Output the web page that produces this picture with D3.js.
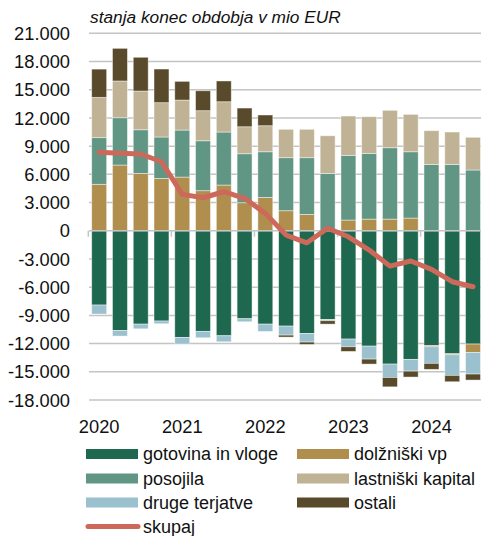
<!DOCTYPE html>
<html>
<head>
<meta charset="utf-8">
<script src="https://cdn.jsdelivr.net/npm/d3@7"></script>
<style>
  html, body { margin: 0; padding: 0; background: #fff; }
  svg { display: block; font-family: "Liberation Sans", Arial, sans-serif; }
</style>
</head>
<body>
<svg id="chart" width="481" height="536"></svg>
<script>
// ---- data (mio EUR, end-of-period stocks) ----
const quarters = ["2020Q1","2020Q2","2020Q3","2020Q4","2021Q1","2021Q2","2021Q3","2021Q4",
  "2022Q1","2022Q2","2022Q3","2022Q4","2023Q1","2023Q2","2023Q3","2023Q4","2024Q1","2024Q2","2024Q3"];
const yearLabels = ["2020","2021","2022","2023","2024"];
const yTicks = [-18000,-15000,-12000,-9000,-6000,-3000,0,3000,6000,9000,12000,15000,18000,21000];

const gotovina  = [-7900,-10600,-9930,-9600,-11340,-10700,-11170,-9360,-9930,-10140,-10920,-9430,-11520,-12270,-14180,-13680,-12200,-13080,-12050];
const dolzniski = [4940,6990,6100,5570,5710,4260,4860,2980,3550,2130,1740,50,1140,1240,1240,1350,-140,-110,-890];
const posojila  = [4960,5030,4640,4400,5000,5310,5640,5210,4850,5640,6030,6050,6880,6990,7590,7050,7060,7060,6460];
const druge     = [-960,-600,-500,-290,-710,-680,-640,-320,-780,-960,-920,-140,-820,-1380,-1420,-1250,-1760,-2190,-2300];
const lastniski = [4290,3910,4120,3650,3190,3200,3220,2870,2770,3020,3020,4000,4180,3900,3980,3980,3580,3440,3480];
const ostali    = [3000,3470,3590,3580,1990,2120,2210,1990,1140,-210,-250,-360,-490,-530,-1000,-630,-640,-680,-640];
const skupaj    = [8340,8230,8160,7340,3870,3510,4150,3450,1850,-460,-1280,260,-640,-2050,-3760,-3220,-4100,-5420,-5950];

const seriesNames = ["gotovina in vloge","dolžniški vp","posojila","druge terjatve","lastniški kapital","ostali"];
const seriesValues = [gotovina, dolzniski, posojila, druge, lastniski, ostali];
const colors = {
  "gotovina in vloge": "#1f6850",
  "dolžniški vp": "#b08e4e",
  "posojila": "#609683",
  "druge terjatve": "#9bc0ce",
  "lastniški kapital": "#c0b294",
  "ostali": "#584a2a",
  "skupaj": "#cd695a"
};

// ---- build table ----
const table = quarters.map((q, i) => {
  const row = { q };
  seriesNames.forEach((n, k) => row[n] = seriesValues[k][i]);
  return row;
});

const svg = d3.select("#chart");
const x = d3.scaleBand().domain(quarters).range([88.8, 483.4]).paddingInner(0.28).paddingOuter(0.14);
const y = d3.scaleLinear().domain([-18000, 21000]).range([400, 33.3]);

// gridlines
svg.append("g").selectAll("line").data(yTicks.filter(d => d !== 0)).join("line")
  .attr("x1", 89).attr("x2", 481)
  .attr("y1", d => y(d)).attr("y2", d => y(d))
  .attr("stroke", "#c4c4c4").attr("stroke-width", 1.5);

// y tick labels
svg.append("g").selectAll("text").data(yTicks).join("text")
  .attr("x", 70).attr("y", d => y(d)).attr("dy", "0.36em")
  .attr("text-anchor", "end").attr("font-size", 18.3).attr("fill", "#111")
  .text(d => d === 0 ? "0" : d3.format(",")(d).replace(/,/g, ".").replace("−", "-"));

// title
svg.append("text").attr("x", 90).attr("y", 23)
  .attr("font-size", 17.3).attr("font-style", "italic").attr("fill", "#111")
  .text("stanja konec obdobja v mio EUR");

// stacked bars
const stack = d3.stack().keys(seriesNames).offset(d3.stackOffsetDiverging);
const stacked = stack(table);
svg.append("g").selectAll("g").data(stacked).join("g")
  .attr("fill", d => colors[d.key])
  .selectAll("rect").data(d => d).join("rect")
  .attr("x", d => x(d.data.q))
  .attr("width", x.bandwidth())
  .attr("y", d => y(Math.max(d[0], d[1])))
  .attr("height", d => Math.abs(y(d[0]) - y(d[1])))
  .attr("stroke", "rgba(255,255,255,0.55)").attr("stroke-width", 0.8);

// zero axis
svg.append("line").attr("x1", 89).attr("x2", 481).attr("y1", y(0)).attr("y2", y(0))
  .attr("stroke", "#c4c4c4").attr("stroke-width", 1.5);
// year boundary ticks
const yearStarts = quarters.filter(q => q.endsWith("Q1"));
svg.append("g").selectAll("line").data(yearStarts).join("line")
  .attr("x1", d => x(d) - x.step() * x.paddingInner() / 2 - 0.5)
  .attr("x2", d => x(d) - x.step() * x.paddingInner() / 2 - 0.5)
  .attr("y1", y(0)).attr("y2", y(0) + 6)
  .attr("stroke", "#c4c4c4").attr("stroke-width", 1.5);

// year labels
svg.append("g").selectAll("text").data(yearStarts).join("text")
  .attr("x", d => x(d) + x.bandwidth() / 2).attr("y", 433)
  .attr("text-anchor", "middle").attr("font-size", 18.3).attr("fill", "#111")
  .text((d, i) => yearLabels[i]);

// skupaj line
const line = d3.line().x((d, i) => x(quarters[i]) + x.bandwidth() / 2).y(d => y(d));
svg.append("path").datum(skupaj).attr("d", line)
  .attr("fill", "none").attr("stroke", colors["skupaj"]).attr("stroke-width", 5)
  .attr("stroke-linejoin", "round").attr("stroke-linecap", "round");

// legend
const legendItems = [
  { name: "gotovina in vloge", col: 0, row: 0 },
  { name: "dolžniški vp", col: 1, row: 0 },
  { name: "posojila", col: 0, row: 1 },
  { name: "lastniški kapital", col: 1, row: 1 },
  { name: "druge terjatve", col: 0, row: 2 },
  { name: "ostali", col: 1, row: 2 },
  { name: "skupaj", col: 0, row: 3 }
];
const colX = [86, 297];
const rowY = [454, 478.5, 502.5, 526.5];
const lg = svg.append("g").selectAll("g").data(legendItems).join("g")
  .attr("transform", d => `translate(${colX[d.col]},${rowY[d.row]})`);
lg.filter(d => d.name !== "skupaj").append("rect")
  .attr("x", 0).attr("y", -5).attr("width", 52).attr("height", 10)
  .attr("fill", d => colors[d.name]);
lg.filter(d => d.name === "skupaj").append("line")
  .attr("x1", 2).attr("x2", 52).attr("y1", 0).attr("y2", 0)
  .attr("stroke", colors["skupaj"]).attr("stroke-width", 5).attr("stroke-linecap", "round");
lg.append("text").attr("x", 57).attr("y", 0).attr("dy", "0.36em")
  .attr("font-size", 18).attr("fill", "#111").text(d => d.name);
</script>
</body>
</html>
